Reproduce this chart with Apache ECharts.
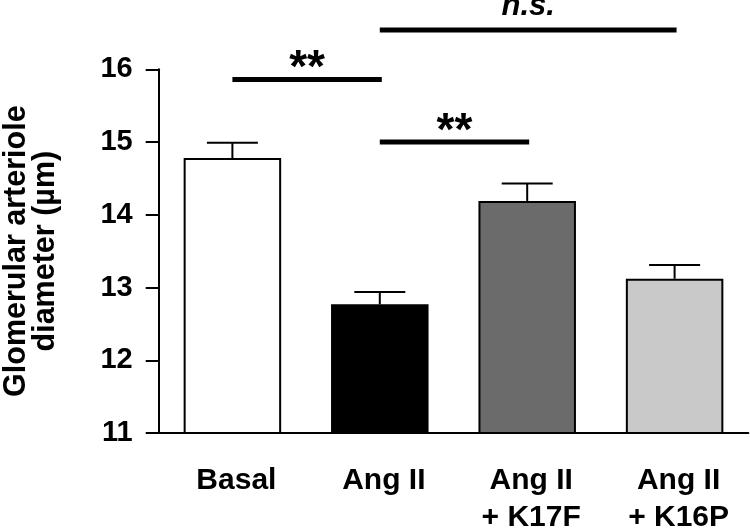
<!DOCTYPE html>
<html>
<head>
<meta charset="utf-8">
<script src="https://cdn.jsdelivr.net/npm/echarts@6/dist/echarts.min.js"></script>
<style>
  html, body { margin: 0; padding: 0; background: #fff; }
  #chart { width: 750px; height: 529px; }
</style>
</head>
<body>
<div id="chart"></div>
<script>
// ---- data ----
const categories = ['Basal', 'Ang II', 'Ang II\n+ K17F', 'Ang II\n+ K16P'];
const means = [14.78, 12.77, 14.19, 13.12];
const sems = [0.21, 0.17, 0.24, 0.19];
const barColors = ['#ffffff', '#000000', '#6b6b6b', '#c9c9c9'];
const yTicks = [11, 12, 13, 14, 15, 16];
// significance brackets: [from category index, to category index, level (axis units), label]
const bracketFrom = [0, 1, 1];
const bracketTo = [1, 2, 3];
const bracketLevel = [15.86, 15.0, 16.54];
const bracketLabel = ['**', '**', 'n.s.'];

const FONT = '"Liberation Sans", Arial, Helvetica, sans-serif';
const chart = echarts.init(document.getElementById('chart'), null, { renderer: 'canvas' });

const option = {
  animation: false,
  backgroundColor: '#ffffff',
  grid: { left: 158.7, right: 1.7, top: 69.3, bottom: 96, containLabel: false, outerBoundsMode: 'none' },
  xAxis: {
    type: 'category',
    data: categories,
    axisLine: { show: true, lineStyle: { color: '#000', width: 2 } },
    axisTick: { show: false },
    axisLabel: {
      color: '#000', fontFamily: FONT, fontWeight: 'bold', fontSize: 30,
      lineHeight: 37, margin: 29, interval: 0, padding: [0, 0, 0, 8]
    },
    splitLine: { show: false }
  },
  yAxis: {
    type: 'value',
    min: yTicks[0],
    max: yTicks[yTicks.length - 1],
    interval: 1,
    axisLine: { show: true, lineStyle: { color: '#000', width: 2 } },
    axisTick: { show: true, inside: false, length: 13, lineStyle: { color: '#000', width: 2 } },
    axisLabel: { color: '#000', fontFamily: FONT, fontWeight: 'bold', fontSize: 29, margin: 26 },
    splitLine: { show: false },
    name: 'Glomerular arteriole\ndiameter (µm)',
    nameLocation: 'middle',
    nameRotate: 90,
    nameGap: 99,
    nameTextStyle: { color: '#000', fontFamily: FONT, fontWeight: 'bold', fontSize: 30.5, lineHeight: 29 }
  },
  series: [
    {
      type: 'bar',
      barWidth: 97.5,
      data: means.map((v, i) => ({
        value: v,
        itemStyle: { color: barColors[i], borderColor: '#000', borderWidth: 2 }
      })),
      z: 2
    },
    {
      type: 'custom',
      clip: false,
      z: 3,
      data: means.map((v, i) => [i, v, v + sems[i]]),
      encode: { x: 0, y: [1, 2] },
      renderItem: function (params, api) {
        const i = api.value(0);
        const base = api.coord([i, api.value(1)]);
        const top = api.coord([i, api.value(2)]);
        const half = 25.5;
        return {
          type: 'group',
          children: [
            { type: 'line', shape: { x1: base[0], y1: base[1], x2: top[0], y2: top[1] },
              style: { stroke: '#000', lineWidth: 2 } },
            { type: 'line', shape: { x1: top[0] - half, y1: top[1], x2: top[0] + half, y2: top[1] },
              style: { stroke: '#000', lineWidth: 2 } }
          ]
        };
      }
    },
    {
      type: 'custom',
      clip: false,
      z: 4,
      data: bracketLevel.map((lv, k) => [bracketFrom[k], bracketTo[k], lv]),
      encode: { x: [0, 1], y: 2 },
      renderItem: function (params, api) {
        const k = params.dataIndex;
        const p1 = api.coord([bracketFrom[k], bracketLevel[k]]);
        const p2 = api.coord([bracketTo[k], bracketLevel[k]]);
        const label = bracketLabel[k];
        const isNs = label === 'n.s.';
        return {
          type: 'group',
          children: [
            { type: 'line', shape: { x1: p1[0], y1: p1[1], x2: p2[0] + 2, y2: p2[1] },
              style: { stroke: '#000', lineWidth: 5 } },
            { type: 'text',
              style: {
                text: label,
                x: (p1[0] + p2[0]) / 2 + 1,
                y: p1[1] + (isNs ? -24 : -10),
                align: 'center',
                verticalAlign: 'middle',
                fontFamily: FONT,
                fontWeight: 'bold',
                fontStyle: isNs ? 'italic' : 'normal',
                fontSize: isNs ? 31 : 46,
                fill: '#000'
              } }
          ]
        };
      }
    }
  ]
};
chart.setOption(option);
</script>
</body>
</html>
